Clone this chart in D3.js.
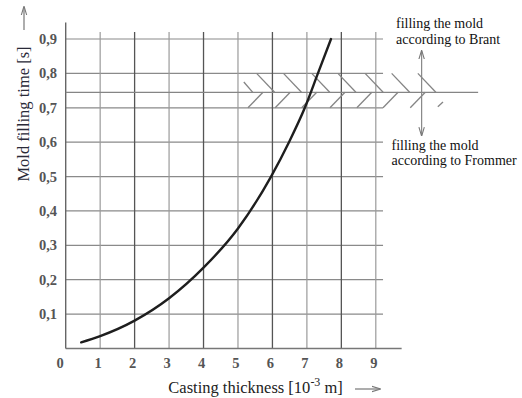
<!DOCTYPE html>
<html>
<head>
<meta charset="utf-8">
<script src="https://cdn.jsdelivr.net/npm/d3@7"></script>
<style>
  body { margin: 0; background: #fff; }
  svg { display: block; font-family: "Liberation Serif", "DejaVu Serif", serif; }
</style>
</head>
<body>
<svg id="chart" width="522" height="398"></svg>
<script>
// curve
const thickness = [0.45, 1, 2, 3, 4, 5, 5.96, 6.48, 6.94, 7.32, 7.70];
const fillTime = [0.018, 0.036, 0.081, 0.146, 0.235, 0.349, 0.5, 0.6, 0.7, 0.8, 0.9];

const xTicks = [0, 1, 2, 3, 4, 5, 6, 7, 8, 9];
const yTicks = [0.1, 0.2, 0.3, 0.4, 0.5, 0.6, 0.7, 0.8, 0.9];
const yTickLabels = ['0,1', '0,2', '0,3', '0,4', '0,5', '0,6', '0,7', '0,8', '0,9'];

// band between the two methods
const bandTop = 0.8;
const bandMid = 0.745;
const bandBottom = 0.7;
const brantHatch = [5.54, 6.32, 7.14, 7.90, 8.69, 9.46, 10.22];   // "\" strokes, start x at top
const frommerHatch = [5.29, 6.08, 6.85, 7.67, 8.45, 9.21, 10.0];  // "/" strokes, start x at bottom

const svg = d3.select('#chart');

const x = d3.scaleLinear().domain([0, 9]).range([65.7, 375.8]);
const y = d3.scaleLinear().domain([0, 0.9]).range([348.5, 39]);

const defs = svg.append('defs');
defs.append('marker')
  .attr('id', 'arr')
  .attr('viewBox', '0 0 10 10')
  .attr('refX', 9).attr('refY', 5)
  .attr('markerWidth', 9).attr('markerHeight', 9)
  .attr('markerUnits', 'userSpaceOnUse')
  .attr('orient', 'auto-start-reverse')
  .append('path')
  .attr('d', 'M0,2 L10,5 L0,8')
  .attr('fill', 'none')
  .attr('stroke', '#777')
  .attr('stroke-width', 1.2);

const grid = svg.append('g');

// horizontal grid
grid.selectAll('line.h')
  .data(yTicks)
  .enter()
  .append('line')
  .attr('x1', x(0)).attr('x2', x(9.21))
  .attr('y1', d => y(d)).attr('y2', d => y(d))
  .attr('stroke', '#8a8a8a')
  .attr('stroke-width', 1.2);

// vertical grid, even ones darker
grid.selectAll('line.v')
  .data(xTicks.slice(1))
  .enter()
  .append('line')
  .attr('x1', d => x(d)).attr('x2', d => x(d))
  .attr('y1', y(0)).attr('y2', y(0.92))
  .attr('stroke', d => d % 2 === 0 ? '#555' : '#9a9a9a')
  .attr('stroke-width', d => d % 2 === 0 ? 1.3 : 1.2);

// axes
svg.append('line')
  .attr('x1', x(0)).attr('x2', x(9.75))
  .attr('y1', y(0)).attr('y2', y(0))
  .attr('stroke', '#777').attr('stroke-width', 1.4);
svg.append('line')
  .attr('x1', x(0)).attr('x2', x(0))
  .attr('y1', y(0)).attr('y2', y(0.948))
  .attr('stroke', '#666').attr('stroke-width', 1.4);

// hatched band
const hatch = svg.append('g').attr('stroke', '#858585').attr('stroke-width', 1.3);
hatch.append('line')
  .attr('x1', x(0)).attr('x2', x(11.97))
  .attr('y1', y(bandMid)).attr('y2', y(bandMid));

const slantDown = 18;
const slantUp = 15;
hatch.selectAll('line.b')
  .data(brantHatch)
  .enter()
  .append('line')
  .attr('x1', d => x(d)).attr('y1', y(bandTop))
  .attr('x2', d => x(d) + slantDown).attr('y2', y(bandMid));
// short first stroke
hatch.append('line')
  .attr('x1', x(5.17)).attr('y1', y(0.775))
  .attr('x2', x(5.43)).attr('y2', y(bandMid));

hatch.selectAll('line.f')
  .data(frommerHatch)
  .enter()
  .append('line')
  .attr('x1', d => x(d)).attr('y1', y(bandBottom))
  .attr('x2', d => x(d) + slantUp).attr('y2', y(bandMid));
// short last stroke
hatch.append('line')
  .attr('x1', x(10.8)).attr('y1', y(0.703))
  .attr('x2', x(10.95)).attr('y2', y(0.717));

// curve
const line = d3.line()
  .x((d, i) => x(thickness[i]))
  .y(d => y(d))
  .curve(d3.curveMonotoneX);

svg.append('path')
  .datum(fillTime)
  .attr('d', line)
  .attr('fill', 'none')
  .attr('stroke', '#1e1e1e')
  .attr('stroke-width', 2.4)
  .attr('stroke-linecap', 'round');

// tick labels
svg.selectAll('text.yt')
  .data(yTicks)
  .enter()
  .append('text')
  .attr('x', 57)
  .attr('y', d => y(d))
  .attr('dy', '0.35em')
  .attr('text-anchor', 'end')
  .attr('font-size', 14.5)
  .attr('font-weight', 'bold')
  .attr('fill', '#555')
  .text((d, i) => yTickLabels[i]);

svg.selectAll('text.xt')
  .data(xTicks)
  .enter()
  .append('text')
  .attr('x', d => d === 0 ? x(0) - 5.5 : x(d) - 2)
  .attr('y', 368)
  .attr('text-anchor', 'middle')
  .attr('font-size', 14.5)
  .attr('font-weight', 'bold')
  .attr('fill', '#555')
  .text(d => d);

// axis titles
const xt = svg.append('text')
  .attr('x', 168.3)
  .attr('y', 393.3)
  .attr('font-size', 16.5)
  .attr('fill', '#222');
xt.append('tspan').text('Casting thickness [10');
xt.append('tspan').attr('baseline-shift', 'super').attr('font-size', 12).text('-3');
xt.append('tspan').text(' m]');

svg.append('line')
  .attr('x1', 355).attr('x2', 380)
  .attr('y1', 389).attr('y2', 389)
  .attr('stroke', '#777').attr('stroke-width', 1.2)
  .attr('marker-end', 'url(#arr)');

svg.append('text')
  .attr('transform', 'translate(29,114) rotate(-90)')
  .attr('text-anchor', 'middle')
  .attr('font-size', 16.5)
  .attr('fill', '#2a2a38')
  .text('Mold filling time  [s]');

svg.append('line')
  .attr('x1', 24).attr('x2', 24)
  .attr('y1', 30).attr('y2', 7)
  .attr('stroke', '#777').attr('stroke-width', 1.2)
  .attr('marker-end', 'url(#arr)');

// annotations
const note = svg.append('g').attr('font-size', 14).attr('fill', '#111');
note.append('text').attr('x', 396).attr('y', 28).text('filling the mold');
note.append('text').attr('x', 396).attr('y', 44).text('according to Brant');
note.append('text').attr('x', 391.5).attr('y', 150).text('filling the mold');
note.append('text').attr('x', 391.5).attr('y', 165).text('according to Frommer');

svg.append('line')
  .attr('x1', x(10.33)).attr('x2', x(10.33))
  .attr('y1', y(0.62)).attr('y2', y(0.865))
  .attr('stroke', '#888').attr('stroke-width', 1.2)
  .attr('marker-start', 'url(#arr)')
  .attr('marker-end', 'url(#arr)');
</script>
</body>
</html>
